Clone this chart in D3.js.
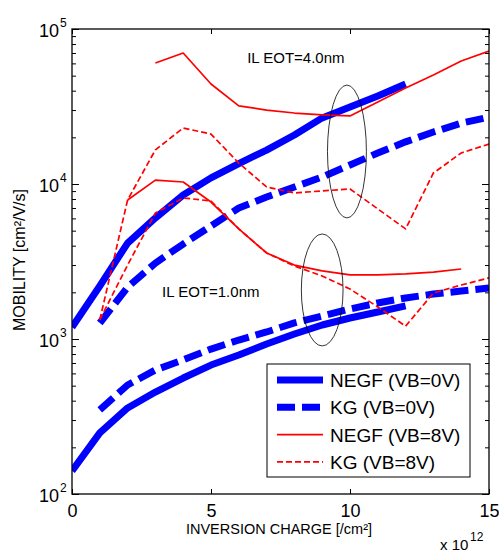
<!DOCTYPE html>
<html>
<head>
<meta charset="utf-8">
<script src="https://cdn.jsdelivr.net/npm/d3@7"></script>
<style>
  body { margin: 0; background: #fff; }
  svg { display: block; font-family: "Liberation Sans", Arial, sans-serif; }
</style>
</head>
<body>
<div id="chart"></div>
<script>
// inversion charge in units of 1e12 /cm^2, mobility in cm^2/V/s
const negf0Eot4X = [0, 1, 2, 3, 4, 5, 6, 7, 8, 9, 10, 11, 12]
const negf0Eot4 = [1190, 2200, 4160, 6040, 8490, 10950, 13540, 16560, 20700, 26700, 31400, 37000, 44200]
const kg0Eot4X = [1, 2, 3, 4, 5, 6, 7, 8, 9, 10, 11, 12, 13, 14, 15]
const kg0Eot4 = [1268, 2160, 3090, 4100, 5360, 7000, 8240, 9570, 11100, 13270, 15850, 18700, 21650, 24700, 27000]
const negf8Eot4X = [3, 4, 5, 6, 7, 8, 9, 10, 11, 12, 13, 14, 15]
const negf8Eot4 = [60400, 70000, 44200, 31900, 30000, 28700, 27900, 27500, 33800, 41600, 50500, 62200, 72100]
const kg8Eot4X = [1, 2, 3, 4, 5, 6, 7, 8, 9, 10, 11, 12, 13, 14, 15]
const kg8Eot4 = [1330, 7890, 16600, 22970, 21000, 13650, 9570, 8760, 9020, 9290, 6900, 5130, 11780, 15850, 18100]

const negf0Eot1X = [0, 1, 2, 3, 4, 5, 6, 7, 8, 9, 10, 11, 12]
const negf0Eot1 = [141, 248, 359, 455, 560, 679, 788, 929, 1077, 1231, 1366, 1493, 1634]
const kg0Eot1X = [1, 2, 3, 4, 5, 6, 7, 8, 9, 10, 11, 12, 13, 14, 15]
const kg0Eot1 = [349, 505, 631, 733, 861, 985, 1110, 1270, 1406, 1562, 1708, 1840, 1950, 2040, 2130]
const negf8Eot1X = [2, 3, 4, 5, 6, 7, 8, 9, 10, 11, 12, 13, 14]
const negf8Eot1 = [7890, 10600, 10300, 7650, 5130, 3590, 3000, 2750, 2590, 2590, 2630, 2700, 2830]
const kg8Eot1X = [1, 2, 3, 4, 5, 6, 7, 8, 9, 10, 11, 12, 13, 14, 15]
const kg8Eot1 = [1330, 3000, 6500, 8130, 7770, 5130, 3590, 2960, 2550, 2100, 1610, 1210, 1980, 2230, 2480]

const xTicks = [0, 5, 10, 15]
const yDecades = [2, 3, 4, 5]
const legendLabels = ["NEGF (VB=0V)", "KG (VB=0V)", "NEGF (VB=8V)", "KG (VB=8V)"]

const W = 499, H = 554
const pLeft = 72, pRight = 489, pTop = 29, pBottom = 494

const svg = d3.select("#chart").append("svg")
    .attr("width", W)
    .attr("height", H)

const x = d3.scaleLinear().domain([0, 15]).range([pLeft, pRight])
const y = d3.scaleLog().domain([100, 100000]).range([pBottom, pTop])

const styles = {
    negf0: {color: "#0000ff", width: 7, dash: null},
    kg0: {color: "#0000ff", width: 7, dash: "18,7"},
    negf8: {color: "#ff0000", width: 1.7, dash: null},
    kg8: {color: "#ff0000", width: 1.7, dash: "6,3"}
}

const series = [
    {xs: negf0Eot4X, ys: negf0Eot4, s: styles.negf0},
    {xs: kg0Eot4X, ys: kg0Eot4, s: styles.kg0},
    {xs: negf0Eot1X, ys: negf0Eot1, s: styles.negf0},
    {xs: kg0Eot1X, ys: kg0Eot1, s: styles.kg0},
    {xs: negf8Eot4X, ys: negf8Eot4, s: styles.negf8},
    {xs: kg8Eot4X, ys: kg8Eot4, s: styles.kg8},
    {xs: negf8Eot1X, ys: negf8Eot1, s: styles.negf8},
    {xs: kg8Eot1X, ys: kg8Eot1, s: styles.kg8}
]

const line = d3.line().x(d => x(d[0])).y(d => y(d[1]))

svg.append("defs").append("clipPath").attr("id", "clip")
    .append("rect").attr("x", pLeft).attr("y", pTop)
    .attr("width", pRight - pLeft).attr("height", pBottom - pTop)

const plot = svg.append("g").attr("clip-path", "url(#clip)")

series.forEach(d => {
    plot.append("path")
        .datum(d.xs.map((v, i) => [v, d.ys[i]]))
        .attr("d", line)
        .attr("fill", "none")
        .attr("stroke", d.s.color)
        .attr("stroke-width", d.s.width)
        .attr("stroke-dasharray", d.s.dash)
        .attr("stroke-linejoin", "round")
})

// ellipses grouping the two oxide thicknesses
const ellipses = [
    {cx: 9.89, yTop: 43500, yBot: 6040, rx: 0.7},
    {cx: 9.0, yTop: 4760, yBot: 902, rx: 0.75}
]
ellipses.forEach(e => {
    svg.append("ellipse")
        .attr("cx", x(e.cx))
        .attr("cy", (y(e.yTop) + y(e.yBot)) / 2)
        .attr("rx", x(e.rx) - x(0))
        .attr("ry", (y(e.yBot) - y(e.yTop)) / 2)
        .attr("fill", "none")
        .attr("stroke", "#000")
        .attr("stroke-width", 0.8)
})

svg.append("text").attr("x", x(6.3)).attr("y", y(60300))
    .attr("font-size", 15).text("IL EOT=4.0nm")
svg.append("text").attr("x", x(3.24)).attr("y", y(1866))
    .attr("font-size", 15).text("IL EOT=1.0nm")

// axes
const minor = []
for (let d = 2; d < 5; d++) for (let m = 2; m <= 9; m++) minor.push(m * Math.pow(10, d))

const ax = svg.append("g").attr("stroke", "#000")
ax.append("g").attr("transform", `translate(0,${pBottom})`)
    .call(d3.axisBottom(x).tickValues(xTicks).tickSizeInner(-5).tickSizeOuter(0).tickPadding(10))
ax.append("g").attr("transform", `translate(0,${pTop})`)
    .call(d3.axisTop(x).tickValues(xTicks).tickSizeInner(-5).tickSizeOuter(0).tickFormat(""))
ax.append("g").attr("transform", `translate(${pLeft},0)`)
    .call(d3.axisLeft(y).tickValues(yDecades.map(d => Math.pow(10, d))).tickSizeInner(-7).tickSizeOuter(0).tickFormat(""))
ax.append("g").attr("transform", `translate(${pLeft},0)`)
    .call(d3.axisLeft(y).tickValues(minor).tickSizeInner(-4).tickSizeOuter(0).tickFormat(""))
ax.append("g").attr("transform", `translate(${pRight},0)`)
    .call(d3.axisRight(y).tickValues(yDecades.map(d => Math.pow(10, d))).tickSizeInner(-7).tickSizeOuter(0).tickFormat(""))
ax.append("g").attr("transform", `translate(${pRight},0)`)
    .call(d3.axisRight(y).tickValues(minor).tickSizeInner(-4).tickSizeOuter(0).tickFormat(""))

ax.selectAll(".domain").remove()
ax.selectAll(".tick line").attr("stroke", "#000").attr("stroke-width", 1)
ax.selectAll(".tick text")
    .attr("font-size", 18)
    .attr("font-family", "Liberation Sans, Arial, sans-serif")
    .attr("fill", "#000")
    .attr("stroke", "none")

svg.append("rect")
    .attr("x", pLeft).attr("y", pTop)
    .attr("width", pRight - pLeft).attr("height", pBottom - pTop)
    .attr("fill", "none").attr("stroke", "#000").attr("stroke-width", 1.3)

// y tick labels 10^n
yDecades.forEach(d => {
    svg.append("text")
        .attr("x", pLeft - 13).attr("y", y(Math.pow(10, d)) + 8)
        .attr("text-anchor", "end").attr("font-size", 18).text("10")
    svg.append("text")
        .attr("x", pLeft - 12).attr("y", y(Math.pow(10, d)) - 2)
        .attr("font-size", 12).text(d)
})

svg.append("text").attr("x", 440).attr("y", 550).attr("font-size", 15).text("x 10")
svg.append("text").attr("x", 470).attr("y", 541).attr("font-size", 12).text("12")

svg.append("text").attr("x", 279).attr("y", 534)
    .attr("text-anchor", "middle").attr("font-size", 14.5)
    .text("INVERSION CHARGE [/cm²]")
svg.append("text").attr("transform", "translate(25,260) rotate(-90)")
    .attr("text-anchor", "middle").attr("font-size", 16)
    .text("MOBILITY [cm²/V/s]")

// legend
const lg = svg.append("g").attr("transform", "translate(267,364)")
lg.append("rect").attr("width", 203).attr("height", 113)
    .attr("fill", "#fff").attr("stroke", "#000").attr("stroke-width", 1)
const legendStyles = [styles.negf0, styles.kg0, styles.negf8, styles.kg8]
legendLabels.forEach((lab, i) => {
    const ly = 16 + i * 27.3
    const s = legendStyles[i]
    lg.append("line").attr("x1", 10).attr("x2", 56).attr("y1", ly).attr("y2", ly)
        .attr("stroke", s.color).attr("stroke-width", s.width)
        .attr("stroke-dasharray", s.dash)
    lg.append("text").attr("x", 63).attr("y", ly + 7).attr("font-size", 19).text(lab)
})
</script>
</body>
</html>
